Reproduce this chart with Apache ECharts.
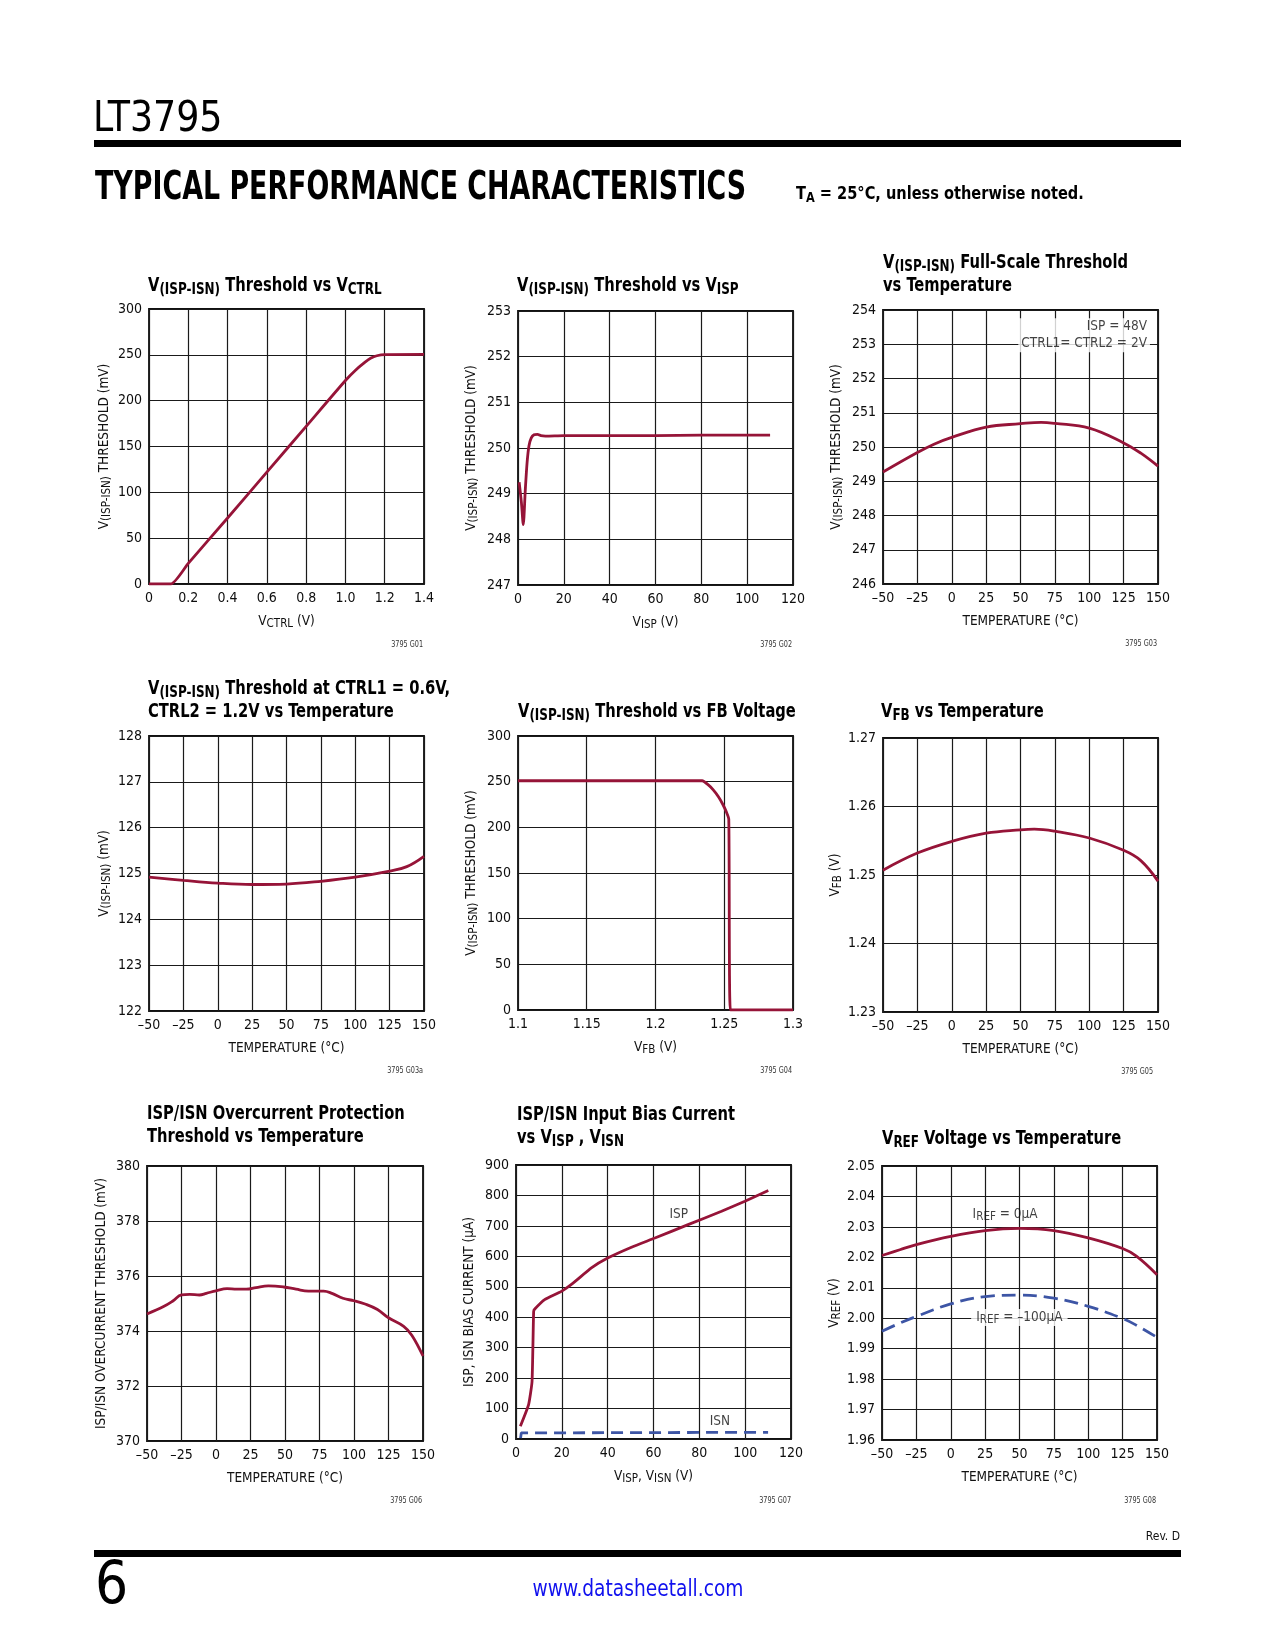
<!DOCTYPE html>
<html><head><meta charset="utf-8">
<script src="https://cdn.jsdelivr.net/npm/echarts@6/dist/echarts.min.js"></script>
<style>html,body{margin:0;padding:0;background:#fff}#c{width:1275px;height:1650px}</style>
</head><body><div id="c"></div>
<script>
const F = "'Liberation Sans Narrow','Arial Narrow','DejaVu Sans Condensed',sans-serif";
const RED = '#961438', BLUE = '#3d55a5';

// ---- tick arrays ----
const vctrlTicks = [0, 0.2, 0.4, 0.6, 0.8, 1.0, 1.2, 1.4];
const thr300Ticks = [0, 50, 100, 150, 200, 250, 300];
const vispTicks = [0, 20, 40, 60, 80, 100, 120];
const thr253Ticks = [247, 248, 249, 250, 251, 252, 253];
const tempTicks = [-50, -25, 0, 25, 50, 75, 100, 125, 150];
const thr254Ticks = [246, 247, 248, 249, 250, 251, 252, 253, 254];
const thr128Ticks = [122, 123, 124, 125, 126, 127, 128];
const vfbTicks = [1.1, 1.15, 1.2, 1.25, 1.3];
const vfbTempTicks = [1.23, 1.24, 1.25, 1.26, 1.27];
const ocpTicks = [370, 372, 374, 376, 378, 380];
const biasTicks = [0, 100, 200, 300, 400, 500, 600, 700, 800, 900];
const vrefTicks = [1.96, 1.97, 1.98, 1.99, 2.00, 2.01, 2.02, 2.03, 2.04, 2.05];

// ---- G01: threshold vs VCTRL ----
const g1Vctrl = [0, 0.11, 0.2, 0.4, 0.6, 0.8, 1.0, 1.05, 1.1, 1.13, 1.16, 1.2, 1.4];
const g1Thr   = [0, 0, 22.5, 72, 122, 172, 222, 233, 242, 246.5, 249, 250.3, 250.5];
// ---- G02: threshold vs VISP ----
const g2Visp = [0.5, 1.5, 2.3, 3.2, 4.0, 4.8, 5.8, 7.0, 8.5, 10, 12, 20, 40, 60, 80, 110];
const g2Thr  = [249.25, 248.8, 248.32, 249.1, 249.7, 250.05, 250.22, 250.29, 250.3, 250.27, 250.26, 250.27, 250.27, 250.27, 250.28, 250.28];
// ---- G03: full-scale threshold vs temperature ----
const g3Temp = [-50, -25, -12.5, 0, 25, 50, 65, 75, 100, 125, 137.5, 150];
const g3Thr  = [249.27, 249.84, 250.09, 250.28, 250.58, 250.68, 250.72, 250.69, 250.55, 250.12, 249.82, 249.44];
const g3Note = [144.5, 253.26];
// ---- G03a: threshold at CTRL1=0.6V ----
const g4Temp = [-50, -25, 0, 25, 50, 75, 100, 125, 137.5, 150];
const g4Thr  = [124.92, 124.85, 124.79, 124.76, 124.77, 124.83, 124.92, 125.05, 125.15, 125.375];
// ---- G04: threshold vs FB ----
const g5Vfb = [1.1, 1.234, 1.238, 1.242, 1.246, 1.249, 1.2515, 1.2533, 1.2545, 1.3];
const g5Thr = [251, 251, 247, 241, 233, 225, 217, 209, 0, 0];
// ---- G05: VFB vs temperature ----
const g6Temp = [-50, -25, 0, 25, 50, 60, 75, 100, 125, 137.5, 150];
const g6Vfb  = [1.2507, 1.2532, 1.2549, 1.2561, 1.2566, 1.2567, 1.2564, 1.2554, 1.2536, 1.2521, 1.2491];
// ---- G06: overcurrent threshold ----
const g7Temp = [-50, -38, -31, -25, -19, -12, -7, 0, 8, 15, 22, 29, 38, 49, 58, 67, 78, 84, 92, 100, 108, 117, 125, 136, 142, 150];
const g7Thr  = [374.62, 374.89, 375.1, 375.31, 375.33, 375.31, 375.37, 375.46, 375.54, 375.52, 375.52, 375.58, 375.64, 375.6, 375.52, 375.45, 375.45, 375.37, 375.19, 375.1, 374.98, 374.78, 374.48, 374.17, 373.84, 373.09];
// ---- G07: bias current ----
const g8VispX = [1.9, 5.5, 7.0, 7.7, 8.2, 12.5, 19.8, 24.9, 32.9, 40.2, 50.4, 60.6, 75.1, 89.7, 99.9, 110.1];
const g8Isp   = [42, 113, 189, 419, 427, 458, 485, 512, 562, 595, 630, 660, 704, 748, 781, 816];
const g8VisnX = [2.0, 2.3, 110];
const g8Isn   = [3, 20, 22];
const g8IspLabel = [71, 739];
const g8IsnLabel = [89, 57];
// ---- G08: VREF vs temperature ----
const g9Temp = [-50, -37, -25, 0, 25, 50, 75, 100, 125, 135, 150];
const g9Vref0   = [2.0206, 2.0225, 2.0242, 2.0269, 2.0288, 2.0295, 2.0288, 2.0264, 2.0229, 2.0204, 2.0143];
const g9Vref100 = [1.9957, 1.9984, 2.0006, 2.0047, 2.0071, 2.0076, 2.0066, 2.0039, 1.9999, 1.9977, 1.9937];
const g9Lab0   = [39.5, 2.0342];
const g9Lab100 = [49.9, 2.0002];

const zip = (a, b) => a.map((v, i) => [v, b[i]]);
const iv = t => +(t[1] - t[0]).toFixed(6);
const tempFmt = v => v < 0 ? '\u2013' + (-v) : '' + v;

const subRich = {
  n: {fontSize: 13.5, fontFamily: F, color: '#111', lineHeight: 17},
  s: {fontSize: 11.5, fontFamily: F, color: '#111', lineHeight: 8, verticalAlign: 'bottom'}
};
const noteRich = {
  n: {fontSize: 13.5, fontFamily: F, color: '#111', lineHeight: 17},
  s: {fontSize: 11.5, fontFamily: F, color: '#111', lineHeight: 8, verticalAlign: 'bottom'}
};
const titleRich = {
  b: {fontSize: 19, fontFamily: F, fontWeight: 'bold', fill: '#000', lineHeight: 23},
  s: {fontSize: 15.5, fontFamily: F, fontWeight: 'bold', fill: '#000', lineHeight: 10, verticalAlign: 'bottom'}
};

const grids = [
  [149, 309, 275, 275], [518, 311, 275, 274], [883, 310, 275, 274],
  [149, 736, 275, 275], [518, 736, 275, 274], [883, 738, 275, 274],
  [147, 1166, 276, 275], [516, 1165, 275, 274], [882, 1166, 275, 274]
].map(g => ({left: g[0], top: g[1], width: g[2], height: g[3], show: true, borderColor: '#111', borderWidth: 1.8, backgroundColor: 'transparent'}));

function axis(gi, ticks, fmt, name, gap, isY) {
  return {
    type: 'value', gridIndex: gi, min: ticks[0], max: ticks[ticks.length - 1], interval: iv(ticks),
    axisLine: {show: false}, axisTick: {show: false},
    splitLine: {show: true, lineStyle: {color: '#1a1a1a', width: 1.2}},
    axisLabel: {fontSize: 14, fontFamily: F, color: '#0d0d0d', margin: 7, formatter: fmt, showMinLabel: true, showMaxLabel: true, hideOverlap: false},
    name: name, nameLocation: 'middle', nameGap: gap, nameRotate: isY ? 90 : 0,
    nameTextStyle: {fontSize: 13.5, fontFamily: F, color: '#111', rich: subRich}
  };
}
const yThr = '{n|V}{s|(ISP-ISN)}{n| THRESHOLD (mV)}';
const tempName = '{n|TEMPERATURE (°C)}';

const xAxes = [
  axis(0, vctrlTicks, v => v === 0 ? '0' : v.toFixed(1), '{n|V}{s|CTRL}{n| (V)}', 29, false),
  axis(1, vispTicks, null, '{n|V}{s|ISP}{n| (V)}', 29, false),
  axis(2, tempTicks, tempFmt, tempName, 29, false),
  axis(3, tempTicks, tempFmt, tempName, 29, false),
  axis(4, vfbTicks, null, '{n|V}{s|FB}{n| (V)}', 29, false),
  axis(5, tempTicks, tempFmt, tempName, 29, false),
  axis(6, tempTicks, tempFmt, tempName, 29, false),
  axis(7, vispTicks, null, '{n|V}{s|ISP}{n|, V}{s|ISN}{n| (V)}', 29, false),
  axis(8, tempTicks, tempFmt, tempName, 29, false)
];
const yAxes = [
  axis(0, thr300Ticks, null, yThr, 36, true),
  axis(1, thr253Ticks, null, yThr, 38, true),
  axis(2, thr254Ticks, null, yThr, 38, true),
  axis(3, thr128Ticks, null, '{n|V}{s|(ISP-ISN)}{n| (mV)}', 36, true),
  axis(4, thr300Ticks, null, yThr, 38, true),
  axis(5, vfbTempTicks, v => v.toFixed(2), '{n|V}{s|FB}{n| (V)}', 38, true),
  axis(6, ocpTicks, null, '{n|ISP/ISN OVERCURRENT THRESHOLD (mV)}', 37, true),
  axis(7, biasTicks, null, '{n|ISP, ISN BIAS CURRENT (µA)}', 38, true),
  axis(8, vrefTicks, v => v.toFixed(2), '{n|V}{s|REF}{n| (V)}', 39, true)
];

function line(i, data, color, dashed, smooth) {
  return {type: 'line', xAxisIndex: i, yAxisIndex: i, data: data, showSymbol: false, symbol: 'none', smooth: smooth || false,
    silent: true, lineStyle: {color: color, width: 2.8, type: dashed ? dashed : 'solid'}, z: 5};
}
function note(i, pos, text, position, extra) {
  return {type: 'scatter', xAxisIndex: i, yAxisIndex: i, data: [pos], symbolSize: 1, silent: true, z: 6,
    itemStyle: {color: 'rgba(0,0,0,0)'},
    label: Object.assign({show: true, position: position, distance: 0, formatter: text, fontSize: 13.5, fontFamily: F, color: '#111', rich: noteRich}, extra || {})};
}

const series = [
  line(0, zip(g1Vctrl, g1Thr), RED, null, 0.2),
  line(1, zip(g2Visp, g2Thr), RED, null, 0.25),
  line(2, zip(g3Temp, g3Thr), RED, null, 0.4),
  note(2, g3Note, '{n|ISP = 48V}\n{n|CTRL1= CTRL2 = 2V}', 'left', {align: 'right', backgroundColor: '#fff', padding: [0, 3, 0, 3], lineHeight: 17}),
  line(3, zip(g4Temp, g4Thr), RED, null, 0.4),
  line(4, zip(g5Vfb, g5Thr), RED, null, 0.2),
  line(5, zip(g6Temp, g6Vfb), RED, null, 0.4),
  line(6, zip(g7Temp, g7Thr), RED, null, 0.4),
  line(7, zip(g8VispX, g8Isp), RED, null, 0.15),
  line(7, zip(g8VisnX, g8Isn), BLUE, [12, 7], false),
  note(7, g8IspLabel, '{n|ISP}', 'inside'),
  note(7, g8IsnLabel, '{n|ISN}', 'inside'),
  line(8, zip(g9Temp, g9Vref0), RED, null, 0.4),
  line(8, zip(g9Temp, g9Vref100), BLUE, [14, 7], 0.4),
  note(8, g9Lab0, '{n|I}{s|REF}{n| = 0µA}', 'inside'),
  note(8, g9Lab100, '{n|I}{s|REF}{n| = \u2013100µA}', 'inside', {backgroundColor: '#fff', padding: [0, 5, 0, 5]})
];

const titleSpecs = [
  ['{b|V}{s|(ISP-ISN)}{b| Threshold vs V}{s|CTRL}', 148, 275],
  ['{b|V}{s|(ISP-ISN)}{b| Threshold vs V}{s|ISP}', 517, 275],
  ['{b|V}{s|(ISP-ISN)}{b| Full-Scale Threshold}\n{b|vs Temperature}', 883, 252],
  ['{b|V}{s|(ISP-ISN)}{b| Threshold at CTRL1 = 0.6V,}\n{b|CTRL2 = 1.2V vs Temperature}', 148, 678],
  ['{b|V}{s|(ISP-ISN)}{b| Threshold vs FB Voltage}', 518, 701],
  ['{b|V}{s|FB}{b| vs Temperature}', 881, 701],
  ['{b|ISP/ISN Overcurrent Protection}\n{b|Threshold vs Temperature}', 147, 1103],
  ['{b|ISP/ISN Input Bias Current}\n{b|vs V}{s|ISP}{b| , V}{s|ISN}', 517, 1104],
  ['{b|V}{s|REF}{b| Voltage vs Temperature}', 882, 1128]
];

const figIds = [['3795 G01', 423, 645], ['3795 G02', 792, 645], ['3795 G03', 1157, 644],
  ['3795 G03a', 423, 1071], ['3795 G04', 792, 1071], ['3795 G05', 1153, 1072],
  ['3795 G06', 422, 1501], ['3795 G07', 791, 1501], ['3795 G08', 1156, 1501]];

const graphic = [
  {type: 'text', x: 93, y: 120, scaleX: 0.94, style: {text: 'LT3795', fontSize: 43, fontFamily: F, fill: '#000', align: 'left', verticalAlign: 'middle'}},
  {type: 'rect', shape: {x: 94, y: 140, width: 1087, height: 7}, style: {fill: '#000'}},
  {type: 'text', x: 95, y: 189, scaleX: 0.878, scaleY: 1.15, style: {text: 'TYPICAL PERFORMANCE CHARACTERISTICS', fontSize: 34, fontWeight: 'bold', fontFamily: F, fill: '#000', align: 'left', verticalAlign: 'middle'}},
  {type: 'text', x: 796, y: 194, scaleX: 0.9, style: {text: '{a|T}{b|A}{a| = 25°C, unless otherwise noted.}', align: 'left', verticalAlign: 'middle',
    rich: {a: {fontSize: 18, fontWeight: 'bold', fontFamily: F, fill: '#000', lineHeight: 22},
           b: {fontSize: 14, fontWeight: 'bold', fontFamily: F, fill: '#000', lineHeight: 10, verticalAlign: 'bottom'}}}},
  {type: 'text', x: 1180, y: 1537, style: {text: 'Rev. D', fontSize: 12, fontFamily: F, fill: '#111', align: 'right', verticalAlign: 'middle'}},
  {type: 'rect', shape: {x: 94, y: 1550, width: 1087, height: 7}, style: {fill: '#000'}},
  {type: 'text', x: 95, y: 1588, style: {text: '6', fontSize: 58, fontFamily: F, fill: '#000', align: 'left', verticalAlign: 'middle'}},
  {type: 'text', x: 638, y: 1590, scaleX: 0.9, style: {text: 'www.datasheetall.com', fontSize: 23, fontFamily: F, fill: '#1010ee', align: 'center', verticalAlign: 'middle'}}
].concat(figIds.map(f => ({type: 'text', x: f[1], y: f[2], scaleX: 0.9, style: {text: f[0], fontSize: 8, fontFamily: F, fill: '#333', align: 'right', verticalAlign: 'middle'}})))
 .concat(titleSpecs.map(t => ({type: 'text', x: t[1], y: t[2], scaleX: 0.86, style: {text: t[0], rich: titleRich, fontFamily: F, fontSize: 19, fontWeight: 'bold', fill: '#000', align: 'left', verticalAlign: 'top'}})));

const chart = echarts.init(document.getElementById('c'), null, {renderer: 'canvas'});
chart.setOption({
  animation: false, backgroundColor: '#fff',
  grid: grids, xAxis: xAxes, yAxis: yAxes, series: series, graphic: graphic
});
</script></body></html>
